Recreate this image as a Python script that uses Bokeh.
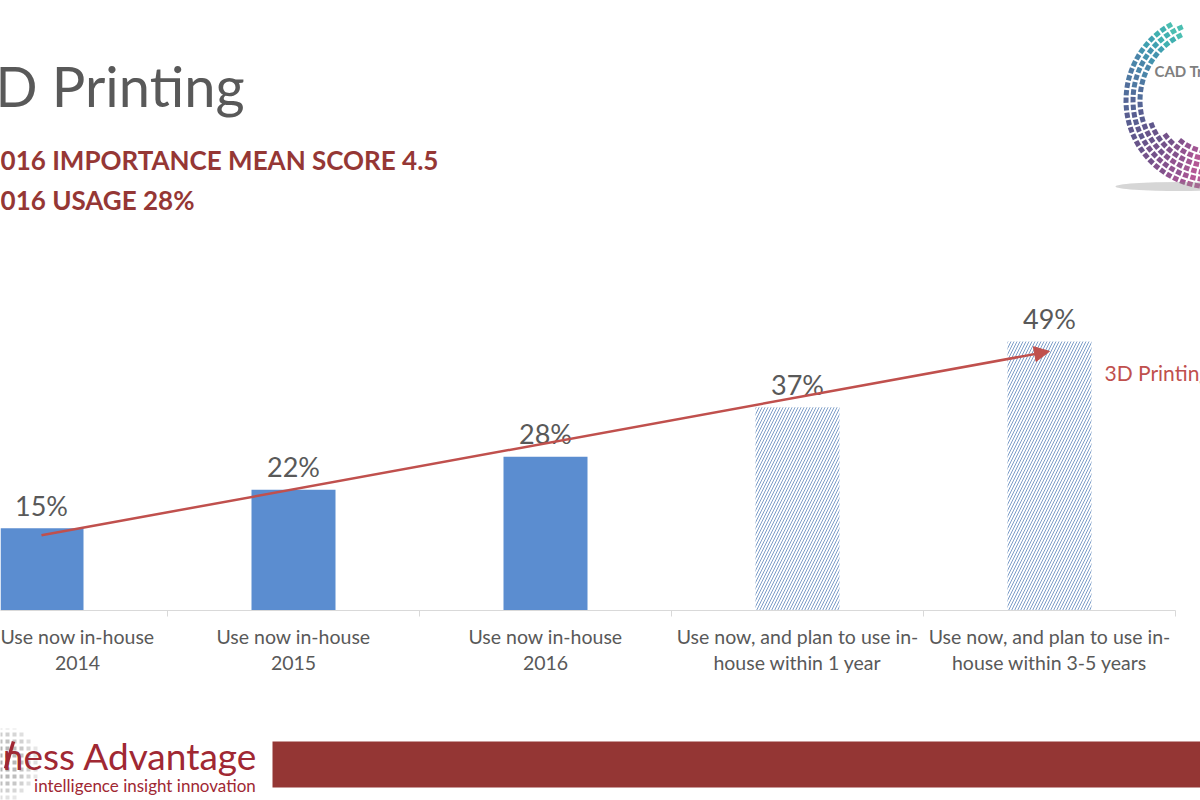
import math
from bokeh.plotting import figure
from bokeh.models import Range1d, FixedTicker, Arrow, NormalHead, ColumnDataSource
from bokeh.layouts import column
from bokeh.core.properties import value
from bokeh.embed import file_html
from bokeh.resources import INLINE

# ---------------- data ----------------
categories = [
    "Use now in-house\n2014",
    "Use now in-house\n2015",
    "Use now in-house\n2016",
    "Use now, and plan to use in-\nhouse within 1 year",
    "Use now, and plan to use in-\nhouse within 3-5 years",
]
usage = [15, 22, 28, 37, 49]
is_actual = [True, True, True, False, False]
trend_values = [13.7, 47.2]          # red trend arrow, first -> last category
title_text = "3D Printing"
subtitle_lines = ["2016 IMPORTANCE MEAN SCORE 4.5", "2016 USAGE 28%"]
trend_label = "3D Printing"

FONT = value("Lato")
GREY = "#595959"
DARKRED = "#953735"

# ---------------- geometry helpers (page px -> data) ----------------
PX_PER_CAT = 252.0
PX_PER_PCT = 5.49
X0_PAGE = 41.0      # page x of first category centre
BASE_PAGE = 610.0   # page y of baseline


def dx(page_x):
    return (page_x - X0_PAGE) / PX_PER_CAT


def dy(page_y):
    return (BASE_PAGE - page_y) / PX_PER_PCT


W = 1200
H1 = 728
FRAME_H = 610

p = figure(width=W, height=H1,
           x_range=Range1d(dx(0), dx(W)),
           y_range=Range1d(0, FRAME_H / PX_PER_PCT),
           output_backend="svg", toolbar_location=None,
           y_axis_location=None,
           min_border_left=0, min_border_right=0,
           min_border_top=0, min_border_bottom=H1 - FRAME_H)
p.grid.visible = False
p.outline_line_color = None
p.background_fill_color = "white"
p.border_fill_color = "white"

idx = list(range(len(categories)))
act = ColumnDataSource(dict(x=[i for i in idx if is_actual[i]],
                            top=[usage[i] for i in idx if is_actual[i]]))
plan = ColumnDataSource(dict(x=[i for i in idx if not is_actual[i]],
                             top=[usage[i] for i in idx if not is_actual[i]]))

p.vbar(x="x", top="top", width=1 / 3, source=act,
       fill_color="#5b8dd0", line_color=None)
p.vbar(x="x", top="top", width=1 / 3, source=plan,
       fill_color="white", line_color=None,
       hatch_pattern="/", hatch_color="#7c9dc8", hatch_scale=6, hatch_weight=1)

p.text(x=idx, y=usage, text=[f"{v}%" for v in usage],
       text_align="center", text_baseline="middle", y_offset=-23,
       text_font=FONT, text_font_size="27px", text_color=GREY)

# trend arrow
p.add_layout(Arrow(x_start=idx[0], y_start=trend_values[0],
                   x_end=idx[-1], y_end=trend_values[1],
                   line_color="#c0504d", line_width=2.5,
                   end=NormalHead(size=15, fill_color="#c0504d", line_color="#c0504d")))
p.text(x=[dx(1104)], y=[dy(372)], text=[trend_label],
       text_align="left", text_baseline="middle",
       text_font=FONT, text_font_size="21px", text_color="#c0504d")

# x axis
ax = p.xaxis[0]
ax.ticker = FixedTicker(ticks=idx, minor_ticks=[i + 0.5 for i in [-1] + idx])
ax.bounds = (-0.5, len(categories) - 0.5)
ax.major_label_overrides = {i: c for i, c in enumerate(categories)}
ax.axis_line_color = "#d9d9d9"
ax.axis_line_width = 1
ax.major_tick_line_color = None
ax.major_tick_out = 0
ax.major_tick_in = 0
ax.minor_tick_line_color = "#d9d9d9"
ax.minor_tick_out = 6
ax.minor_tick_in = 0
ax.major_label_standoff = 8
ax.major_label_text_font = "Lato"
ax.major_label_text_font_size = "19.5px"
ax.major_label_text_color = GREY
ax.major_label_text_line_height = 1.15

# title and subtitles
p.text(x=[dx(244)], y=[dy(85)], text=[title_text], text_align="right",
       text_baseline="middle", text_font=FONT, text_font_size="56px",
       text_color=GREY)
p.text(x=[dx(-15), dx(-15)], y=[dy(159), dy(199)], text=subtitle_lines,
       text_align="left", text_baseline="middle", text_font=FONT,
       text_font_style="bold", text_font_size="26px", text_color=DARKRED)

# ---------------- CAD Trends logo (decoration, drawn as small ring tiles) ----------------
ring_colors = ["#2bb3a3", "#1fa2a2", "#1e8fa2", "#2380a0", "#2a709a", "#2f6292",
               "#33558a", "#374a82", "#3b417c", "#433a78", "#4e3676", "#5c3476",
               "#6c3478", "#7e357c", "#913780", "#a63a82", "#ba3c80", "#cc3e7c",
               "#d9457a", "#e04f78"]
LCX, LCY = 1212.0, 100.0
rows = [(70, 115, 300), (77, 112, 300), (84, 118, 290),
        (63, 200, 300), (56, 215, 300), (49, 230, 300)]
xs, ys, cols = [], [], []
for r0, a0, a1 in rows:
    step = 420.0 / r0
    a = float(a0)
    while a < a1:
        b = a + step * 0.72
        r1 = r0 + 5
        pts = []
        for rr, ang in ((r0, a), (r1, a), (r1, b), (r0, b)):
            t = math.radians(ang)
            pts.append((LCX + rr * math.cos(t), LCY - rr * math.sin(t)))
        xs.append([dx(q[0]) for q in pts])
        ys.append([dy(q[1]) for q in pts])
        ci = int((a - 110) / 190 * len(ring_colors))
        cols.append(ring_colors[max(0, min(ci, len(ring_colors) - 1))])
        a += step
p.patches(xs=xs, ys=ys, fill_color=cols, line_color=None, fill_alpha=0.85)
p.ellipse(x=[dx(1180)], y=[dy(186)], width=130, height=9,
          width_units="screen", height_units="screen",
          fill_color="#8a8a8a", fill_alpha=0.35, line_color=None)
p.text(x=[dx(1154)], y=[dy(70)], text=["CAD Trends"], text_align="left",
       text_baseline="middle", text_font=FONT, text_font_style="bold",
       text_font_size="15px", text_color="#7f7f7f")

# ---------------- footer ----------------
H2 = 72
f = figure(width=W, height=H2, x_range=Range1d(0, W),
           y_range=Range1d(H1 + H2, H1),
           output_backend="svg", toolbar_location=None,
           x_axis_location=None, y_axis_location=None,
           min_border=0)
f.grid.visible = False
f.outline_line_color = None

f.quad(left=[272], right=[1200], top=[741], bottom=[787],
       fill_color="#943634", line_color=None)

# globe dots
gx, gy, ga = [], [], []
for ix in range(-6, 6):
    for iy in range(-6, 7):
        px = 0 + ix * 7
        py = 762 + iy * 7
        d2 = px ** 2 + (py - 762) ** 2
        if d2 < 38 ** 2:
            gx.append(px)
            gy.append(py)
            ga.append(0.2 + 0.5 * (1 - d2 / 38 ** 2))
f.rect(x=gx, y=gy, width=4, height=4, fill_color="#8c8c8c", fill_alpha=ga,
       line_color=None)
f.segment(x0=[5], y0=[768], x1=[13], y1=[741], line_color="#a02833",
          line_width=3.5)

f.text(x=[257], y=[755], text=["ness Advantage"], text_align="right",
       text_baseline="middle", text_font=FONT, text_font_size="37px",
       text_color="#a02833")
f.text(x=[264], y=[785], text=["intelligence  insight  innovation"],
       text_align="right", text_baseline="middle", text_font=FONT,
       text_font_size="17px", text_color="#a02833")

layout = column(p, f, spacing=0)
open("out.html", "w").write(file_html(layout, INLINE))
